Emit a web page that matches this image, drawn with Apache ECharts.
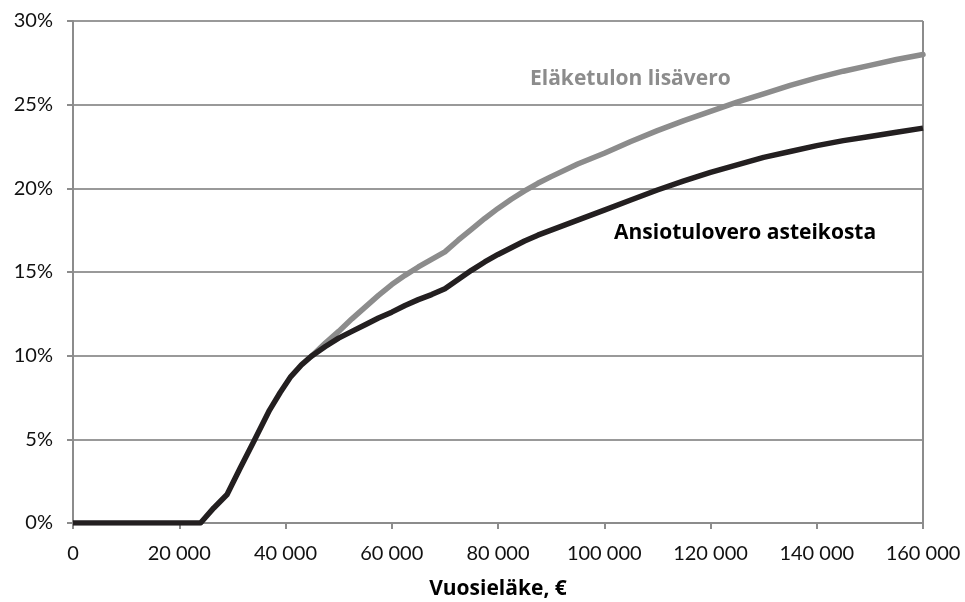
<!DOCTYPE html>
<html>
<head>
<meta charset="utf-8">
<script src="https://cdn.jsdelivr.net/npm/echarts@6/dist/echarts.min.js"></script>
<style>html,body{margin:0;padding:0;background:#fff;}#c{width:965px;height:602px;}</style>
</head>
<body>
<div id="c"></div>
<script>
const incomeA = [0, 24000, 26500, 29000, 31500, 34000, 37000, 39000, 41000, 43000, 45000, 47500, 50000, 52500, 55000, 57500, 60000, 62500, 65000, 67500, 70000, 72500, 75000, 77500, 80000, 82500, 85000, 87500, 90000, 95000, 100000, 105000, 110000, 115000, 120000, 125000, 130000, 135000, 140000, 145000, 150000, 155000, 160000];
const ansiotulo = [0, 0, 0.9, 1.7, 3.3, 4.85, 6.75, 7.8, 8.75, 9.45, 10.0, 10.55, 11.05, 11.45, 11.85, 12.25, 12.6, 13.0, 13.35, 13.65, 14.0, 14.55, 15.1, 15.6, 16.05, 16.45, 16.85, 17.2, 17.5, 18.1, 18.7, 19.3, 19.9, 20.45, 20.95, 21.4, 21.85, 22.2, 22.55, 22.85, 23.1, 23.35, 23.6];
const incomeB = [45000, 47500, 50000, 52500, 55000, 57500, 60000, 62500, 65000, 67500, 70000, 72500, 75000, 77500, 80000, 82500, 85000, 87500, 90000, 95000, 100000, 105000, 110000, 115000, 120000, 125000, 130000, 135000, 140000, 145000, 150000, 155000, 160000];
const lisavero = [10.0, 10.75, 11.45, 12.2, 12.9, 13.6, 14.25, 14.8, 15.3, 15.75, 16.2, 16.9, 17.55, 18.2, 18.8, 19.35, 19.85, 20.3, 20.7, 21.45, 22.1, 22.8, 23.45, 24.05, 24.6, 25.15, 25.65, 26.15, 26.6, 27.0, 27.35, 27.7, 28.0];
const seriesNames = ['Ansiotulovero asteikosta', 'Eläketulon lisävero'];
const xTitle = 'Vuosieläke, €';

const FONT = 'Lato, "Open Sans", sans-serif';
const BOLD = '"Open Sans", Lato, sans-serif';
const chart = echarts.init(document.getElementById('c'), null, {renderer: 'canvas'});
const fmt = v => String(v).replace(/\B(?=(\d{3})+(?!\d))/g, ' ');
chart.setOption({
  animation: false,
  backgroundColor: '#fff',
  grid: {left: 73, right: 42, top: 21, bottom: 79, containLabel: false, outerBoundsMode: 'none'},
  xAxis: {
    type: 'value', min: 0, max: 160000, interval: 20000,
    name: xTitle, nameLocation: 'middle', nameGap: 56,
    nameTextStyle: {fontFamily: BOLD, fontSize: 21, fontWeight: 'bold', color: '#000'},
    axisLine: {show: true, lineStyle: {color: '#8c8c8c', width: 2}},
    axisTick: {show: true, length: 6, lineStyle: {color: '#8c8c8c', width: 2}},
    axisLabel: {formatter: fmt, fontFamily: FONT, fontSize: 20, color: '#111', margin: 21},
    splitLine: {show: false}
  },
  yAxis: {
    type: 'value', min: 0, max: 30, interval: 5,
    axisLine: {show: true, lineStyle: {color: '#8c8c8c', width: 2}},
    axisTick: {show: true, length: 6, lineStyle: {color: '#8c8c8c', width: 2}},
    axisLabel: {formatter: v => v + '%', fontFamily: FONT, fontSize: 20, color: '#111', margin: 20},
    splitLine: {show: true, lineStyle: {color: '#999', width: 2}}
  },
  graphic: [
    {type: 'line', shape: {x1: 923, y1: 21, x2: 923, y2: 523}, style: {stroke: '#8c8c8c', lineWidth: 2}, z: 1},
    {type: 'text', left: 530, top: 69, style: {text: seriesNames[1], fontFamily: BOLD, fontSize: 21, fontWeight: 'bold', fill: '#8c8c8c'}},
    {type: 'text', left: 614, top: 223, style: {text: seriesNames[0], fontFamily: BOLD, fontSize: 21, fontWeight: 'bold', fill: '#000'}}
  ],
  series: [
    {name: seriesNames[1], type: 'line', smooth: false, symbol: 'none', z: 3,
     lineStyle: {color: '#8c8c8c', width: 5.5, join: 'round', cap: 'round'},
     data: incomeB.map((x, i) => [x, lisavero[i]])},
    {name: seriesNames[0], type: 'line', smooth: false, symbol: 'none', z: 4,
     lineStyle: {color: '#231f20', width: 5.5, join: 'round', cap: 'butt'},
     data: incomeA.map((x, i) => [x, ansiotulo[i]])}
  ]
});
</script>
</body>
</html>
